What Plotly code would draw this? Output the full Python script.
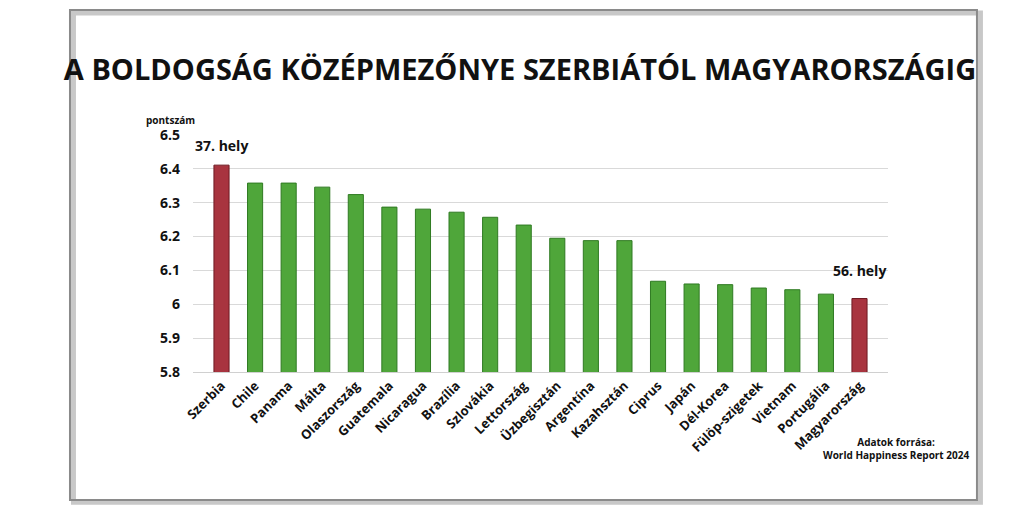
import plotly.graph_objects as go

orszagok = ["Szerbia", "Chile", "Panama", "Málta", "Olaszország", "Guatemala", "Nicaragua",
            "Brazília", "Szlovákia", "Lettország", "Üzbegisztán", "Argentína", "Kazahsztán",
            "Ciprus", "Japán", "Dél-Korea", "Fülöp-szigetek", "Vietnam", "Portugália", "Magyarország"]
pontszam = [6.411, 6.358, 6.358, 6.346, 6.324, 6.287, 6.281, 6.272, 6.257, 6.234,
            6.195, 6.188, 6.188, 6.068, 6.060, 6.058, 6.048, 6.043, 6.030, 6.017]
y_ticks = [5.8, 5.9, 6.0, 6.1, 6.2, 6.3, 6.4, 6.5]
y_tick_text = ["5.8", "5.9", "6", "6.1", "6.2", "6.3", "6.4", "6.5"]

szinek = ["#a8343f" if o in ("Szerbia", "Magyarország") else "#4fa63a" for o in orszagok]
keret = ["#6e1a22" if o in ("Szerbia", "Magyarország") else "#2f7a22" for o in orszagok]

fig = go.Figure()
fig.add_trace(go.Bar(x=orszagok, y=pontszam, marker_color=szinek,
                     marker_line=dict(color=keret, width=1), width=0.45))

fig.add_annotation(x="Szerbia", y=pontszam[0], text="<b>37. hely</b>", showarrow=False,
                   yshift=20, font=dict(size=14, color="#111"))
fig.add_annotation(x="Magyarország", y=pontszam[-1], text="<b>56. hely</b>", showarrow=False,
                   yshift=28, font=dict(size=14, color="#111"))
fig.add_annotation(xref="paper", yref="paper", x=-0.07, y=1.1, text="<b>pontszám</b>",
                   showarrow=False, font=dict(size=10, color="#111"))
fig.add_annotation(xref="paper", yref="paper", x=1.12, y=-0.39, xanchor="right", align="center",
                   text="<b>Adatok forrása:<br>World Happiness Report 2024</b>",
                   showarrow=False, font=dict(size=10, color="#111"))

# kártya keret árnyékkal
fig.add_shape(type="rect", xref="paper", yref="paper", x0=-0.172, x1=1.133, y0=-0.55, y1=1.515,
              line=dict(color="#c8c8c8", width=5), layer="below")
fig.add_shape(type="rect", xref="paper", yref="paper", x0=-0.177, x1=1.128, y0=-0.54, y1=1.527,
              line=dict(color="#8a8a8a", width=2), layer="below")

fig.update_layout(
    width=1024, height=512,
    paper_bgcolor="white", plot_bgcolor="white",
    margin=dict(l=185, r=144, t=127, b=148),
    title=dict(text="<b>A BOLDOGSÁG KÖZÉPMEZŐNYE SZERBIÁTÓL MAGYARORSZÁGIG</b>",
               x=0.5, y=0.9, xanchor="center",
               font=dict(size=29, color="#111", family="Liberation Sans Narrow, Open Sans")),
    font=dict(family="Open Sans", color="#111"),
    showlegend=False, bargap=0.5,
    xaxis=dict(tickangle=-45, tickfont=dict(size=13), showline=True, linecolor="#d0d0d0"),
    yaxis=dict(range=[5.8, 6.5], tickvals=y_ticks, ticktext=y_tick_text, gridcolor="#d9d9d9",
               tickfont=dict(size=14), zeroline=False, ticklabelstandoff=12),
)
fig.update_xaxes(ticktext=[f"<b>{o}</b>" for o in orszagok], tickvals=orszagok)
fig.update_yaxes(ticktext=[f"<b>{t}</b>" for t in y_tick_text])

fig.write_html("out.html")
